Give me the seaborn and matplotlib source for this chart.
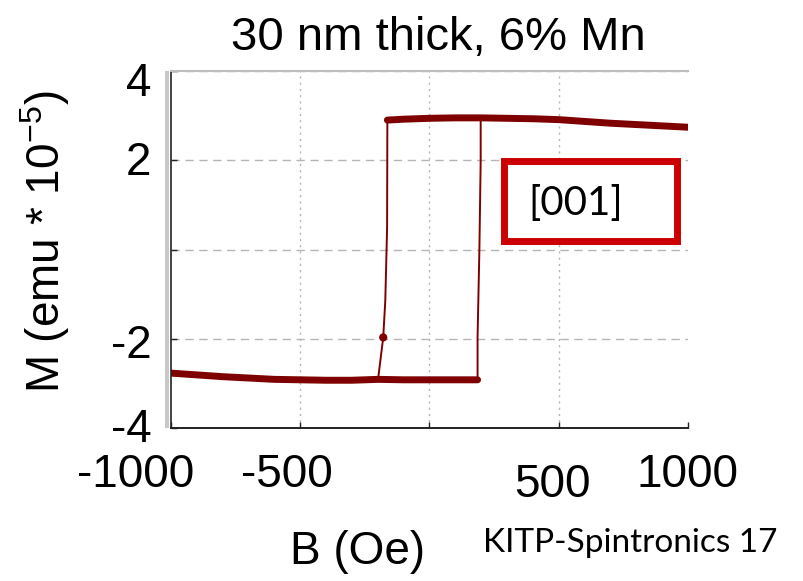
import matplotlib
matplotlib.use("Agg")
import matplotlib.pyplot as plt
import matplotlib.transforms as mtransforms
from matplotlib.patches import Rectangle
import numpy as np
import pandas as pd
import seaborn as sns

# ---------------- data ----------------
upper_B = [1000, 900, 800, 700, 600, 500, 400, 300, 200, 100, 0, -100, -163]
upper_M = [2.74, 2.77, 2.80, 2.83, 2.87, 2.91, 2.93, 2.94, 2.95, 2.95, 2.94, 2.92, 2.90]

lower_B = [-1000, -900, -800, -700, -600, -500, -400, -300, -200, -100, 0, 100, 186]
lower_M = [-2.77, -2.81, -2.85, -2.88, -2.91, -2.92, -2.93, -2.93, -2.91, -2.92, -2.92, -2.92, -2.92]

down_jump_B = [-163, -164, -171, -179, -198]
down_jump_M = [2.90, 0.49, -1.14, -1.97, -2.86]

up_jump_B = [186, 186, 193, 198, 198]
up_jump_M = [-2.92, -1.95, 0.0, 2.0, 2.92]

dot_B = [-179]
dot_M = [-1.97]

x_ticks = [-1000, -500, 0, 500, 1000]
x_ticklabels = ["-1000", "-500", "", "500", "1000"]
y_ticks = [-4, -2, 0, 2, 4]
y_ticklabels = ["-4", "-2", "", "2", "4"]

title = "30 nm thick, 6% Mn"
xlabel = "B (Oe)"
ylabel = "M (emu * 10$^{-5}$)"
box_label = "[001]"
footer = "KITP-Spintronics 17"

# ---------------- style ----------------
sns.set_style("white")
plt.rcParams["font.family"] = ["Liberation Sans", "DejaVu Sans"]
plt.rcParams["mathtext.fontset"] = "custom"
plt.rcParams["mathtext.rm"] = "Liberation Sans"
plt.rcParams["mathtext.it"] = "Liberation Sans"
plt.rcParams["mathtext.default"] = "regular"
plt.rcParams["text.color"] = "black"
plt.rcParams["axes.labelcolor"] = "black"
plt.rcParams["xtick.color"] = "black"
plt.rcParams["ytick.color"] = "black"

LINE = "#7f0000"
BOX = "#cc0000"

fig = plt.figure(figsize=(8.04, 5.81), dpi=100)
W, H = 804, 581
ax = fig.add_axes([171 / W, 1 - 428 / H, 517 / W, 357 / H])

upper = pd.DataFrame({"B": upper_B, "M": upper_M})
lower = pd.DataFrame({"B": lower_B, "M": lower_M})
down = pd.DataFrame({"B": down_jump_B, "M": down_jump_M})
up = pd.DataFrame({"B": up_jump_B, "M": up_jump_M})
dot = pd.DataFrame({"B": dot_B, "M": dot_M})

sns.lineplot(data=down, x="B", y="M", sort=False, estimator=None, color=LINE, lw=1.4, ax=ax)
sns.lineplot(data=up, x="B", y="M", sort=False, estimator=None, color=LINE, lw=1.4, ax=ax)
sns.lineplot(data=upper, x="B", y="M", sort=False, estimator=None, color=LINE, lw=5,
             solid_capstyle="round", ax=ax)
sns.lineplot(data=lower, x="B", y="M", sort=False, estimator=None, color=LINE, lw=5,
             solid_capstyle="round", ax=ax)
sns.scatterplot(data=dot, x="B", y="M", color=LINE, s=35, edgecolor="none", ax=ax)

ax.set_xlim(-1000, 1000)
ax.set_ylim(-4, 4)

# grid
ax.set_xticks(x_ticks)
ax.set_yticks(y_ticks)
ax.xaxis.grid(True, linestyle=(0, (1.5, 3)), color="#b5b5b5", lw=1.0)
ax.yaxis.grid(True, linestyle=(0, (6, 4)), color="#b5b5b5", lw=1.0)
ax.get_xgridlines()[-1].set_visible(False)
ax.get_xgridlines()[0].set_visible(False)
ax.get_ygridlines()[0].set_visible(False)

# spines
ax.spines["right"].set_visible(False)
ax.spines["top"].set_color("#bdbdbd")
ax.spines["top"].set_linewidth(1.5)
ax.spines["left"].set_color("#222222")
ax.spines["left"].set_linewidth(1.2)
ax.spines["bottom"].set_color("#222222")
ax.spines["bottom"].set_linewidth(1.4)

# grey strip left of the axis
ax.add_patch(Rectangle((-0.0125, 0), 0.0095, 1, transform=ax.transAxes,
                       facecolor="#c8c8c8", edgecolor="none", clip_on=False))

# ticks / tick labels
ax.tick_params(axis="both", direction="in", length=4, width=1, color="#222222",
               labelsize=33, bottom=True, left=True, top=False, right=False)
ax.tick_params(axis="x", pad=18)
ax.tick_params(axis="y", pad=14)
ax.set_xticklabels(x_ticklabels)
ax.set_yticklabels(y_ticklabels)

x_offsets = {"-1000": (-35, 0), "-500": (-13, 0), "500": (-6, 10), "1000": (0, 0)}
y_offsets = {"4": (0, 8), "2": (0, -2), "-2": (0, 2), "-4": (0, -3)}
for lab in ax.get_xticklabels():
    dx, dy = x_offsets.get(lab.get_text(), (0, 0))
    lab.set_transform(lab.get_transform() +
                      mtransforms.ScaledTranslation(dx / 100, -dy / 100, fig.dpi_scale_trans))
for lab in ax.get_yticklabels():
    dx, dy = y_offsets.get(lab.get_text(), (0, 0))
    lab.set_transform(lab.get_transform() +
                      mtransforms.ScaledTranslation(dx / 100, -dy / 100, fig.dpi_scale_trans))

# labels
ax.set_xlabel(xlabel, fontsize=33)
ax.xaxis.set_label_coords((358 - 171) / 517, (428 - 530) / 357)
ax.set_ylabel(ylabel, fontsize=33)
ax.yaxis.set_label_coords((72 - 171) / 517, (428 - 242) / 357)

# red box with [001]
ax.add_patch(Rectangle((289, 0.19), 670, 1.79, facecolor="white",
                       edgecolor=BOX, lw=5, zorder=4))
ax.text(566, 1.03, box_label, ha="center", va="center", fontsize=29,
        family=["Lato", "DejaVu Sans"], zorder=5)

# title and footer
fig.text(438 / W, 1 - 50 / H, title, ha="center", va="baseline", fontsize=34)
fig.text(483 / W, 1 - 552 / H, footer, ha="left", va="baseline", fontsize=24,
         family=["Lato", "DejaVu Sans"])

fig.savefig("out.png", dpi=100)
